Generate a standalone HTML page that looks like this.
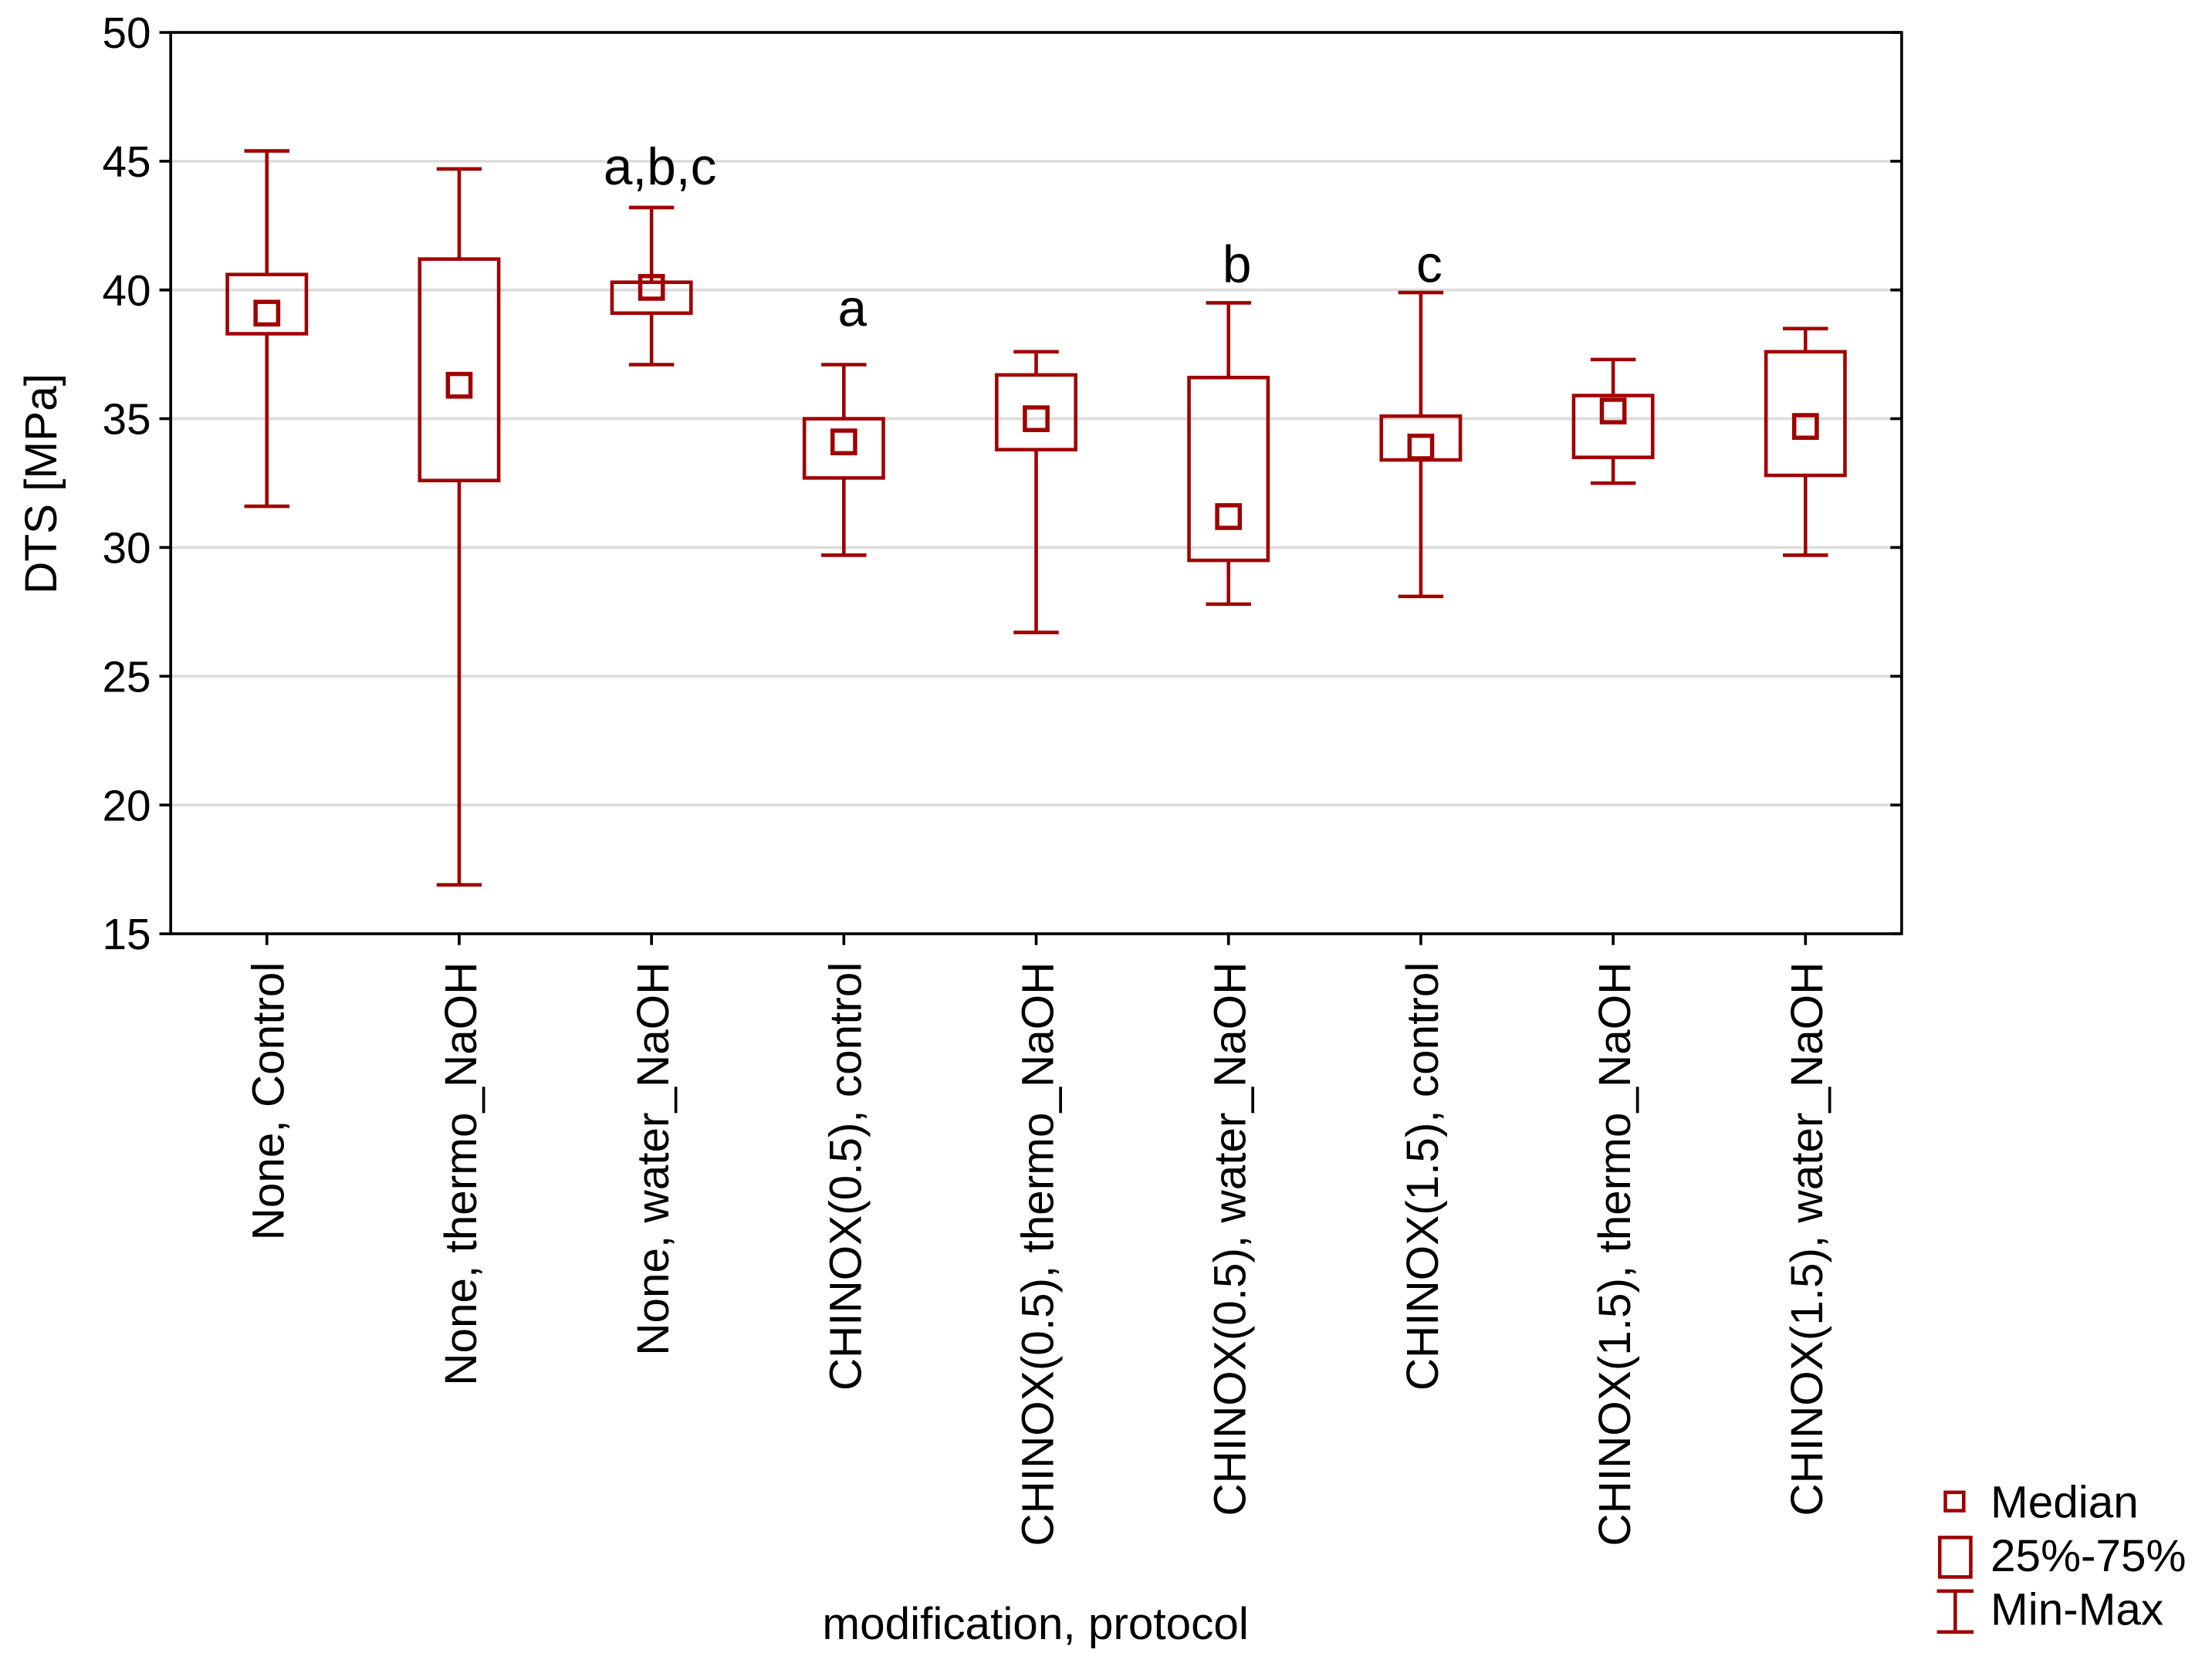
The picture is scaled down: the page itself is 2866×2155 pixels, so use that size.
<!DOCTYPE html>
<html><head><meta charset="utf-8"><style>
html,body{margin:0;padding:0;background:#fff}
svg{display:block}
text{font-family:"Liberation Sans",Arial,sans-serif;fill:#000}
</style></head><body>
<svg id="chart" width="2866" height="2155" viewBox="0 0 1568 1179" xmlns="http://www.w3.org/2000/svg">
<g id="grid"></g>
<g id="marks"></g>
<rect x="121" y="23" width="1227" height="639" fill="none" stroke="#000" stroke-width="2"/>
<g id="axes"></g>
<text transform="translate(40,343) rotate(-90)" text-anchor="middle" font-size="32">DTS [MPa]</text>
<text x="734" y="1162" text-anchor="middle" font-size="32">modification, protocol</text>
<g>
  <rect x="1379" y="1058" width="13" height="13" fill="none" stroke="#a00000" stroke-width="2.5"/>
  <text x="1411" y="1076" font-size="32">Median</text>
  <rect x="1375" y="1090" width="22" height="28" fill="none" stroke="#a00000" stroke-width="2.5"/>
  <text x="1411" y="1114" font-size="32">25%-75%</text>
  <path d="M1373 1128H1399M1386 1128V1157M1373 1157H1399" fill="none" stroke="#a00000" stroke-width="2.5"/>
  <text x="1411" y="1152" font-size="32">Min-Max</text>
</g>
</svg>
<script>
const categories=["None, Control","None, thermo_NaOH","None, water_NaOH","CHINOX(0.5), control","CHINOX(0.5), thermo_NaOH","CHINOX(0.5), water_NaOH","CHINOX(1.5), control","CHINOX(1.5), thermo_NaOH","CHINOX(1.5), water_NaOH"];
const mins=[31.6,16.9,37.1,29.7,26.7,27.8,28.1,32.5,29.7];
const q1s=[38.3,32.6,39.1,32.7,33.8,29.5,33.4,33.5,32.8];
const medians=[39.1,36.3,40.1,34.1,35.0,31.2,33.9,35.3,34.7];
const q3s=[40.6,41.2,40.3,35.0,36.7,36.6,35.1,35.9,37.6];
const maxs=[45.4,44.7,43.2,37.1,37.6,39.5,39.9,37.3,38.5];
const annotations=["","","a,b,c","a","","b","c","",""];
const annotY=[0,0,44.1,38.6,0,40.3,40.3,0,0];
const yTicks=[15,20,25,30,35,40,45,50];

const NS="http://www.w3.org/2000/svg";
const L=121,R=1348,T=23,B=662,ymin=15,ymax=50;
const y=v=>B-(v-ymin)/(ymax-ymin)*(B-T);
const bw=(R-L)/categories.length;
const x=i=>L+bw*(i+0.5);
function mk(tag,attrs,parent){const e=document.createElementNS(NS,tag);for(const k in attrs)e.setAttribute(k,attrs[k]);parent.appendChild(e);return e;}
const grid=document.getElementById('grid'),marks=document.getElementById('marks'),axes=document.getElementById('axes');
const C="#a00000";
yTicks.forEach(t=>{
  if(t>ymin&&t<ymax){const g=mk('line',{x1:L,x2:R,y1:y(t),y2:y(t),stroke:'#dcdcdc','stroke-width':2},grid);
  
  }
  const tk=mk('path',{d:`M${L-8} ${y(t)}H${L}M${R-8} ${y(t)}H${R}`,stroke:'#000','stroke-width':2},axes);
  
  
  const lb=mk('text',{x:L-14,y:y(t)+11,'text-anchor':'end','font-size':31},axes);
  lb.textContent=t;
  
  
});
categories.forEach((c,i)=>{
  const cx=x(i);
  const tk=mk('line',{x1:cx,x2:cx,y1:B,y2:B+8,stroke:'#000','stroke-width':2},axes);
  
  
  const lb=mk('text',{transform:`translate(${cx+12},682) rotate(-90)`,'text-anchor':'end','font-size':32},axes);
  lb.textContent=c;
  
  
  const g=mk('g',{},marks);
  
  
  mk('path',{d:`M${cx-16} ${y(maxs[i])}H${cx+16}M${cx} ${y(maxs[i])}V${y(q3s[i])}M${cx} ${y(q1s[i])}V${y(mins[i])}M${cx-16} ${y(mins[i])}H${cx+16}`,stroke:C,'stroke-width':2.5,fill:'none'},g);
  mk('rect',{x:cx-28,y:y(q3s[i]),width:56,height:y(q1s[i])-y(q3s[i]),fill:'none',stroke:C,'stroke-width':2.5},g);
  mk('rect',{x:cx-8,y:y(medians[i])-8,width:16,height:16,fill:'none',stroke:C,'stroke-width':3},g);
  if(annotations[i]){const a=mk('text',{x:cx+6,y:y(annotY[i]),'text-anchor':'middle','font-size':37},marks);
  a.textContent=annotations[i];
  
  }
});
</script>
</body></html>
